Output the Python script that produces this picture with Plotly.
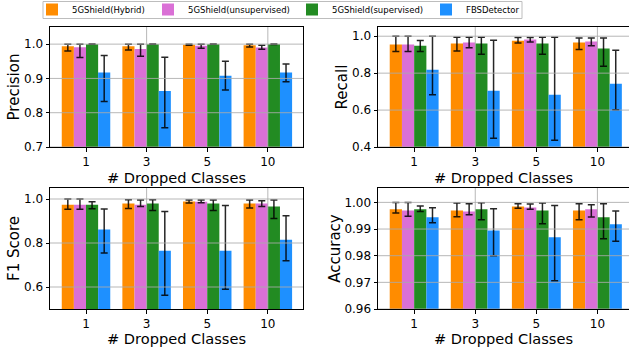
import plotly.graph_objects as go

categories = ["1", "3", "5", "10"]
series_names = ["5GShield(Hybrid)", "5GShield(unsupervised)", "5GShield(supervised)", "FBSDetector"]
series_colors = ["#FF8C00", "#DA70D6", "#228B22", "#1E90FF"]

# Each metric: values, lower bound, upper bound; rows = series, columns = categories
precision_val = [[0.994, 0.994, 0.998, 0.997],
                 [0.991, 0.986, 0.995, 0.990],
                 [1.000, 1.000, 1.000, 1.000],
                 [0.917, 0.863, 0.908, 0.917]]
precision_lo = [[0.980, 0.983, 0.997, 0.992],
                [0.961, 0.965, 0.988, 0.985],
                [0.9995, 0.9995, 0.9995, 0.999],
                [0.833, 0.756, 0.866, 0.890]]
precision_hi = [[1.000, 1.000, 1.000, 1.000],
                [1.000, 1.000, 1.000, 0.997],
                [1.000, 1.000, 1.000, 1.000],
                [0.967, 0.962, 0.950, 0.942]]

recall_val = [[0.955, 0.960, 0.976, 0.966],
              [0.955, 0.966, 0.982, 0.971],
              [0.949, 0.960, 0.960, 0.933],
              [0.819, 0.705, 0.683, 0.743]]
recall_lo = [[0.917, 0.920, 0.964, 0.928],
             [0.917, 0.937, 0.969, 0.948],
             [0.917, 0.902, 0.902, 0.837],
             [0.683, 0.448, 0.437, 0.602]]
recall_hi = [[1.000, 0.995, 0.993, 0.991],
             [1.000, 0.995, 0.993, 0.991],
             [0.977, 0.995, 0.995, 0.991],
             [1.000, 0.978, 0.995, 0.924]]

f1_val = [[0.974, 0.979, 0.989, 0.979],
          [0.974, 0.974, 0.988, 0.979],
          [0.974, 0.979, 0.979, 0.966],
          [0.861, 0.765, 0.765, 0.815]]
f1_lo = [[0.953, 0.957, 0.982, 0.959],
         [0.953, 0.966, 0.983, 0.966],
         [0.956, 0.948, 0.948, 0.911],
         [0.754, 0.563, 0.590, 0.719]]
f1_hi = [[1.000, 0.997, 0.995, 0.995],
         [1.000, 0.995, 0.995, 0.992],
         [0.988, 0.997, 0.995, 0.995],
         [0.954, 0.943, 0.971, 0.924]]

acc_val = [[0.9974, 0.9970, 0.9985, 0.9970],
           [0.9970, 0.9966, 0.9981, 0.9974],
           [0.9974, 0.9974, 0.9970, 0.9944],
           [0.9944, 0.9895, 0.9869, 0.9918]]
acc_lo = [[0.9960, 0.9946, 0.9978, 0.9935],
          [0.9948, 0.9954, 0.9974, 0.9945],
          [0.9966, 0.9935, 0.9920, 0.9864],
          [0.9924, 0.9800, 0.9706, 0.9854]]
acc_hi = [[1.0000, 0.9998, 0.9995, 0.9995],
          [1.0000, 0.9995, 0.9994, 0.9991],
          [0.9986, 0.9999, 0.9998, 0.9995],
          [0.9980, 0.9976, 0.9988, 0.9968]]

metric_titles = ["Precision", "Recall", "F1 Score", "Accuracy"]
x_title = "# Dropped Classes"

metrics = [(precision_val, precision_lo, precision_hi),
           (recall_val, recall_lo, recall_hi),
           (f1_val, f1_lo, f1_hi),
           (acc_val, acc_lo, acc_hi)]
yranges = [[0.7, 1.05], [0.4, 1.05], [0.5, 1.05], [0.96, 1.0054]]
yticks = [[0.7, 0.8, 0.9, 1.0], [0.4, 0.6, 0.8, 1.0], [0.6, 0.8, 1.0],
          [0.96, 0.97, 0.98, 0.99, 1.00]]
yfmt = [".1f", ".1f", ".1f", ".2f"]

W, H = 629, 347
FONT = "DejaVu Sans"
GRID = "rgba(170,170,170,0.85)"
fig = go.Figure()

# subplot boxes in pixels (left, right, top, bottom)
boxes = [(50, 303, 27, 147), (378, 629, 27, 147), (50, 303, 188, 309), (378, 629, 188, 309)]
xranges = [[-0.594, 3.58], [-0.592, 3.517], [-0.594, 3.58], [-0.592, 3.517]]
legend_names = ["legend", "legend2", "legend3", "legend4"]
legend_text_x = [70, 186, 330, 464]

for k, (vals, lo, hi) in enumerate(metrics):
    xa = "x" if k == 0 else f"x{k+1}"
    ya = "y" if k == 0 else f"y{k+1}"
    for s in range(4):
        v = vals[s]
        fig.add_trace(go.Bar(
            x=categories, y=v, name=series_names[s],
            marker=dict(color=series_colors[s], line=dict(width=0)),
            error_y=dict(type="data", symmetric=False,
                         array=[max(h - a, 0.0003) for h, a in zip(hi[s], v)],
                         arrayminus=[max(a - l, 0.0003) for a, l in zip(v, lo[s])],
                         color="rgba(0,0,0,0.85)", thickness=1.5, width=3.5),
            xaxis=xa, yaxis=ya, showlegend=(k == 0), legend=legend_names[s],
        ))
    l, r, t, b = boxes[k]
    xkey = "xaxis" if k == 0 else f"xaxis{k+1}"
    ykey = "yaxis" if k == 0 else f"yaxis{k+1}"
    fig.layout[xkey] = dict(
        domain=[l / W, r / W], anchor=ya, type="category", range=xranges[k],
        showline=True, mirror=True, linecolor="black", linewidth=1,
        ticks="outside", ticklen=3.5, tickcolor="black", showgrid=False,
        automargin=False,
        tickfont=dict(family=FONT, size=12, color="black"),
        title=dict(text=x_title, font=dict(family=FONT, size=14.6, color="black"), standoff=0),
    )
    fig.layout[ykey] = dict(
        domain=[(H - b) / H, (H - t) / H], anchor=xa, range=yranges[k],
        tickvals=yticks[k], tickformat=yfmt[k],
        showline=True, mirror=True, linecolor="black", linewidth=1,
        ticks="outside", ticklen=3.5, tickcolor="black",
        showgrid=False, zeroline=False, automargin=False,
        tickfont=dict(family=FONT, size=12, color="black"),
        title=dict(text=metric_titles[k], font=dict(family=FONT, size=15, color="black"), standoff=0),
    )
    # grid lines drawn over the bars, as in the reference
    for tv in yticks[k]:
        fig.add_shape(type="line", xref=f"{xa} domain", yref=ya, x0=0, x1=1, y0=tv, y1=tv,
                      line=dict(color=GRID, width=1), layer="above")
    for c in categories:
        fig.add_shape(type="line", xref=xa, yref=f"{ya} domain", x0=c, x1=c, y0=0, y1=1,
                      line=dict(color=GRID, width=1), layer="above")

# legend frame (matplotlib-style box)
fig.add_shape(type="rect", xref="paper", yref="paper",
              x0=43 / W, x1=522 / W, y0=1 - 18.5 / H, y1=1 - 1.5 / H,
              line=dict(color="#bdbdbd", width=1), layer="above")

legend_common = dict(orientation="h", xanchor="left", y=1 - 9.5 / H, yanchor="middle",
                     font=dict(family=FONT, size=8.5, color="black"),
                     borderwidth=0, bgcolor="rgba(0,0,0,0)", visible=True)
layout_legends = {}
for name, tx in zip(legend_names, legend_text_x):
    layout_legends[name] = dict(legend_common, x=(tx - 38) / W)

fig.update_layout(
    width=W, height=H, margin=dict(l=0, r=0, t=0, b=0, autoexpand=False),
    plot_bgcolor="white", paper_bgcolor="white",
    barmode="group", bargap=0.2, bargroupgap=0, showlegend=True,
    **layout_legends,
)

fig.write_html("out.html", config={"displayModeBar": False},
               post_script="document.body.style.margin='0';document.body.style.padding='0';")
